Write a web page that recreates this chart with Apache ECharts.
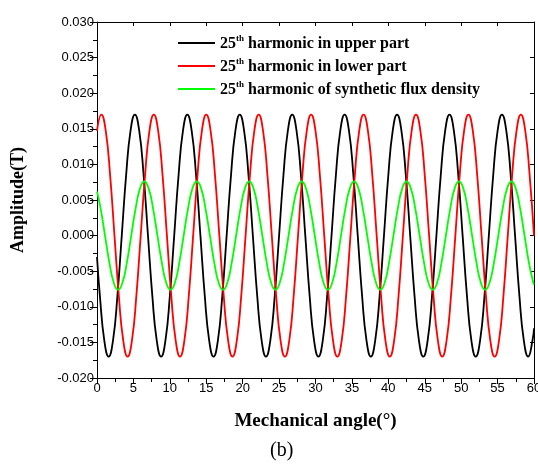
<!DOCTYPE html>
<html>
<head>
<meta charset="utf-8">
<script src="https://cdn.jsdelivr.net/npm/echarts@6/dist/echarts.min.js"></script>
<style>
html,body{margin:0;padding:0;background:#fff;}
#chart{width:538px;height:468px;}
</style>
</head>
<body>
<div id="chart"></div>
<script>
// Tick labels / axis ranges
var xTicks = [0, 5, 10, 15, 20, 25, 30, 35, 40, 45, 50, 55, 60];
var yTicks = [-0.020, -0.015, -0.010, -0.005, 0.000, 0.005, 0.010, 0.015, 0.020, 0.025, 0.030];

var seriesNames = ['upper', 'lower', 'synthetic'];

// 25th harmonic in upper part (black)
var upperAngle = [0, 0.4, 1.0, 1.6, 2.2, 2.8, 3.4, 4.0, 4.6, 5.2, 5.8, 6.4, 7.0, 7.6, 8.2, 8.8, 9.4, 10.0, 10.6, 11.2, 11.8, 12.4, 13.0, 13.6, 14.2, 14.8, 15.4, 16.0, 16.6, 17.2, 17.8, 18.4, 19.0, 19.6, 20.2, 20.8, 21.4, 22.0, 22.6, 23.2, 23.8, 24.4, 25.0, 25.6, 26.2, 26.8, 27.4, 28.0, 28.6, 29.2, 29.8, 30.4, 31.0, 31.6, 32.2, 32.8, 33.4, 34.0, 34.6, 35.2, 35.8, 36.4, 37.0, 37.6, 38.2, 38.8, 39.4, 40.0, 40.6, 41.2, 41.8, 42.4, 43.0, 43.6, 44.2, 44.8, 45.4, 46.0, 46.6, 47.2, 47.8, 48.4, 49.0, 49.6, 50.2, 50.8, 51.4, 52.0, 52.6, 53.2, 53.8, 54.4, 55.0, 55.6, 56.2, 56.8, 57.4, 58.0, 58.6, 59.2, 59.8, 60];
var upperValue = [-0.0030,
  -0.0085, -0.0147, -0.0170, -0.0147, -0.0085, 0, 0.0085, 0.0147, 0.0170, 0.0147, 0.0085, 0,
  -0.0085, -0.0147, -0.0170, -0.0147, -0.0085, 0, 0.0085, 0.0147, 0.0170, 0.0147, 0.0085, 0,
  -0.0085, -0.0147, -0.0170, -0.0147, -0.0085, 0, 0.0085, 0.0147, 0.0170, 0.0147, 0.0085, 0,
  -0.0085, -0.0147, -0.0170, -0.0147, -0.0085, 0, 0.0085, 0.0147, 0.0170, 0.0147, 0.0085, 0,
  -0.0085, -0.0147, -0.0170, -0.0147, -0.0085, 0, 0.0085, 0.0147, 0.0170, 0.0147, 0.0085, 0,
  -0.0085, -0.0147, -0.0170, -0.0147, -0.0085, 0, 0.0085, 0.0147, 0.0170, 0.0147, 0.0085, 0,
  -0.0085, -0.0147, -0.0170, -0.0147, -0.0085, 0, 0.0085, 0.0147, 0.0170, 0.0147, 0.0085, 0,
  -0.0085, -0.0147, -0.0170, -0.0147, -0.0085, 0, 0.0085, 0.0147, 0.0170, 0.0147, 0.0085, 0,
  -0.0085, -0.0147, -0.0170, -0.0147,
  -0.0130];

// 25th harmonic in lower part (red)
var lowerAngle = [0, 0.6, 1.2, 1.8, 2.4, 3.0, 3.6, 4.2, 4.8, 5.4, 6.0, 6.6, 7.2, 7.8, 8.4, 9.0, 9.6, 10.2, 10.8, 11.4, 12.0, 12.6, 13.2, 13.8, 14.4, 15.0, 15.6, 16.2, 16.8, 17.4, 18.0, 18.6, 19.2, 19.8, 20.4, 21.0, 21.6, 22.2, 22.8, 23.4, 24.0, 24.6, 25.2, 25.8, 26.4, 27.0, 27.6, 28.2, 28.8, 29.4, 30.0, 30.6, 31.2, 31.8, 32.4, 33.0, 33.6, 34.2, 34.8, 35.4, 36.0, 36.6, 37.2, 37.8, 38.4, 39.0, 39.6, 40.2, 40.8, 41.4, 42.0, 42.6, 43.2, 43.8, 44.4, 45.0, 45.6, 46.2, 46.8, 47.4, 48.0, 48.6, 49.2, 49.8, 50.4, 51.0, 51.6, 52.2, 52.8, 53.4, 54.0, 54.6, 55.2, 55.8, 56.4, 57.0, 57.6, 58.2, 58.8, 59.4, 60.0];
var lowerValue = [
  0.0147, 0.0170, 0.0147, 0.0085, 0, -0.0085, -0.0147, -0.0170, -0.0147, -0.0085, 0, 0.0085,
  0.0147, 0.0170, 0.0147, 0.0085, 0, -0.0085, -0.0147, -0.0170, -0.0147, -0.0085, 0, 0.0085,
  0.0147, 0.0170, 0.0147, 0.0085, 0, -0.0085, -0.0147, -0.0170, -0.0147, -0.0085, 0, 0.0085,
  0.0147, 0.0170, 0.0147, 0.0085, 0, -0.0085, -0.0147, -0.0170, -0.0147, -0.0085, 0, 0.0085,
  0.0147, 0.0170, 0.0147, 0.0085, 0, -0.0085, -0.0147, -0.0170, -0.0147, -0.0085, 0, 0.0085,
  0.0147, 0.0170, 0.0147, 0.0085, 0, -0.0085, -0.0147, -0.0170, -0.0147, -0.0085, 0, 0.0085,
  0.0147, 0.0170, 0.0147, 0.0085, 0, -0.0085, -0.0147, -0.0170, -0.0147, -0.0085, 0, 0.0085,
  0.0147, 0.0170, 0.0147, 0.0085, 0, -0.0085, -0.0147, -0.0170, -0.0147, -0.0085, 0, 0.0085,
  0.0147, 0.0170, 0.0147, 0.0085, 0];

// 25th harmonic of synthetic flux density (green)
var synthAngle = [0, 0.5, 1.1, 1.7, 2.3, 2.9, 3.5, 4.1, 4.7, 5.3, 5.9, 6.5, 7.1, 7.7, 8.3, 8.9, 9.5, 10.1, 10.7, 11.3, 11.9, 12.5, 13.1, 13.7, 14.3, 14.9, 15.5, 16.1, 16.7, 17.3, 17.9, 18.5, 19.1, 19.7, 20.3, 20.9, 21.5, 22.1, 22.7, 23.3, 23.9, 24.5, 25.1, 25.7, 26.3, 26.9, 27.5, 28.1, 28.7, 29.3, 29.9, 30.5, 31.1, 31.7, 32.3, 32.9, 33.5, 34.1, 34.7, 35.3, 35.9, 36.5, 37.1, 37.7, 38.3, 38.9, 39.5, 40.1, 40.7, 41.3, 41.9, 42.5, 43.1, 43.7, 44.3, 44.9, 45.5, 46.1, 46.7, 47.3, 47.9, 48.5, 49.1, 49.7, 50.3, 50.9, 51.5, 52.1, 52.7, 53.3, 53.9, 54.5, 55.1, 55.7, 56.3, 56.9, 57.5, 58.1, 58.7, 59.3, 59.9, 60];
var synthValue = [0.0062,
  0.0038, 0, -0.0038, -0.0066, -0.0076, -0.0066, -0.0038, 0, 0.0038, 0.0066, 0.0076, 0.0066,
  0.0038, 0, -0.0038, -0.0066, -0.0076, -0.0066, -0.0038, 0, 0.0038, 0.0066, 0.0076, 0.0066,
  0.0038, 0, -0.0038, -0.0066, -0.0076, -0.0066, -0.0038, 0, 0.0038, 0.0066, 0.0076, 0.0066,
  0.0038, 0, -0.0038, -0.0066, -0.0076, -0.0066, -0.0038, 0, 0.0038, 0.0066, 0.0076, 0.0066,
  0.0038, 0, -0.0038, -0.0066, -0.0076, -0.0066, -0.0038, 0, 0.0038, 0.0066, 0.0076, 0.0066,
  0.0038, 0, -0.0038, -0.0066, -0.0076, -0.0066, -0.0038, 0, 0.0038, 0.0066, 0.0076, 0.0066,
  0.0038, 0, -0.0038, -0.0066, -0.0076, -0.0066, -0.0038, 0, 0.0038, 0.0066, 0.0076, 0.0066,
  0.0038, 0, -0.0038, -0.0066, -0.0076, -0.0066, -0.0038, 0, 0.0038, 0.0066, 0.0076, 0.0066,
  0.0038, 0, -0.0038, -0.0066,
  -0.0069];

function zip(xs, ys) {
  var out = [];
  for (var i = 0; i < xs.length; i++) out.push([xs[i], ys[i]]);
  return out;
}

var legendText = {
  upper: ' harmonic in upper part',
  lower: ' harmonic in lower part',
  synthetic: ' harmonic of synthetic flux density'
};

var chart = echarts.init(document.getElementById('chart'), null, {renderer: 'canvas'});

var serif = '"Liberation Serif", "DejaVu Serif", serif';
var sans = '"Liberation Sans", Arial, sans-serif';
var axisLine = {show: true, onZero: false, lineStyle: {color: '#000', width: 1}};
var tickLine = {color: '#000', width: 1};

var option = {
  backgroundColor: '#fff',
  animation: false,
  title: {
    text: '(b)',
    left: 265,
    top: 436,
    textStyle: {fontFamily: serif, fontWeight: 'normal', fontSize: 20, color: '#000'}
  },
  grid: {left: 97, right: 4, top: 22, bottom: 90, containLabel: false, outerBoundsMode: 'none'},
  legend: {
    orient: 'vertical',
    left: 173,
    top: 29,
    itemWidth: 37,
    itemHeight: 2,
    itemGap: 5,
    icon: 'rect',
    data: seriesNames,
    formatter: function (name) {
      return '{b|25}{s|th}{b|' + legendText[name] + '}';
    },
    textStyle: {
      rich: {
        b: {fontFamily: serif, fontWeight: 'bold', fontSize: 16, color: '#000', verticalAlign: 'bottom', lineHeight: 18},
        s: {fontFamily: serif, fontWeight: 'bold', fontSize: 9, color: '#000', verticalAlign: 'top', lineHeight: 18, padding: [0, 0, 8, 0]}
      }
    }
  },
  xAxis: [{
    type: 'value',
    min: xTicks[0],
    max: xTicks[xTicks.length - 1],
    interval: 5,
    position: 'bottom',
    name: 'Mechanical angle(°)',
    nameLocation: 'middle',
    nameGap: 34,
    nameTextStyle: {fontFamily: serif, fontWeight: 'bold', fontSize: 19, color: '#000'},
    axisLine: axisLine,
    axisTick: {show: true, inside: false, length: 6, lineStyle: tickLine},
    minorTick: {show: true, splitNumber: 2, length: 4, lineStyle: tickLine},
    axisLabel: {fontFamily: sans, fontSize: 13, color: '#000', margin: 4},
    splitLine: {show: false}
  }, {
    type: 'value',
    min: xTicks[0],
    max: xTicks[xTicks.length - 1],
    interval: 5,
    position: 'top',
    axisLine: axisLine,
    axisTick: {show: true, inside: true, length: 4, lineStyle: tickLine},
    axisLabel: {show: false},
    splitLine: {show: false}
  }],
  yAxis: [{
    type: 'value',
    min: yTicks[0],
    max: yTicks[yTicks.length - 1],
    interval: 0.005,
    position: 'left',
    name: 'Amplitude(T)',
    nameLocation: 'middle',
    nameGap: 70,
    nameTextStyle: {fontFamily: serif, fontWeight: 'bold', fontSize: 18, color: '#000'},
    axisLine: axisLine,
    axisTick: {show: true, inside: false, length: 7, lineStyle: tickLine},
    minorTick: {show: true, splitNumber: 2, length: 4, lineStyle: tickLine},
    axisLabel: {
      fontFamily: sans, fontSize: 13, color: '#000', margin: 3,
      formatter: function (v) { var s = v.toFixed(3); return s === '-0.000' ? '0.000' : s; }
    },
    splitLine: {show: false}
  }, {
    type: 'value',
    min: yTicks[0],
    max: yTicks[yTicks.length - 1],
    interval: 0.005,
    position: 'right',
    axisLine: axisLine,
    axisTick: {show: true, inside: true, length: 4, lineStyle: tickLine},
    axisLabel: {show: false},
    splitLine: {show: false}
  }],
  series: [{
    name: 'upper',
    type: 'line',
    xAxisIndex: 0, yAxisIndex: 0,
    data: zip(upperAngle, upperValue),
    smooth: 0.5,
    symbol: 'none',
    lineStyle: {color: '#000000', width: 1.8},
    itemStyle: {color: '#000000'}
  }, {
    name: 'lower',
    type: 'line',
    xAxisIndex: 0, yAxisIndex: 0,
    data: zip(lowerAngle, lowerValue),
    smooth: 0.5,
    symbol: 'none',
    lineStyle: {color: '#ff0000', width: 1.8},
    itemStyle: {color: '#ff0000'}
  }, {
    name: 'synthetic',
    type: 'line',
    xAxisIndex: 0, yAxisIndex: 0,
    data: zip(synthAngle, synthValue),
    smooth: 0.5,
    symbol: 'none',
    lineStyle: {color: '#00ff00', width: 1.8},
    itemStyle: {color: '#00ff00'}
  }]
};
chart.setOption(option);
</script>
</body>
</html>
